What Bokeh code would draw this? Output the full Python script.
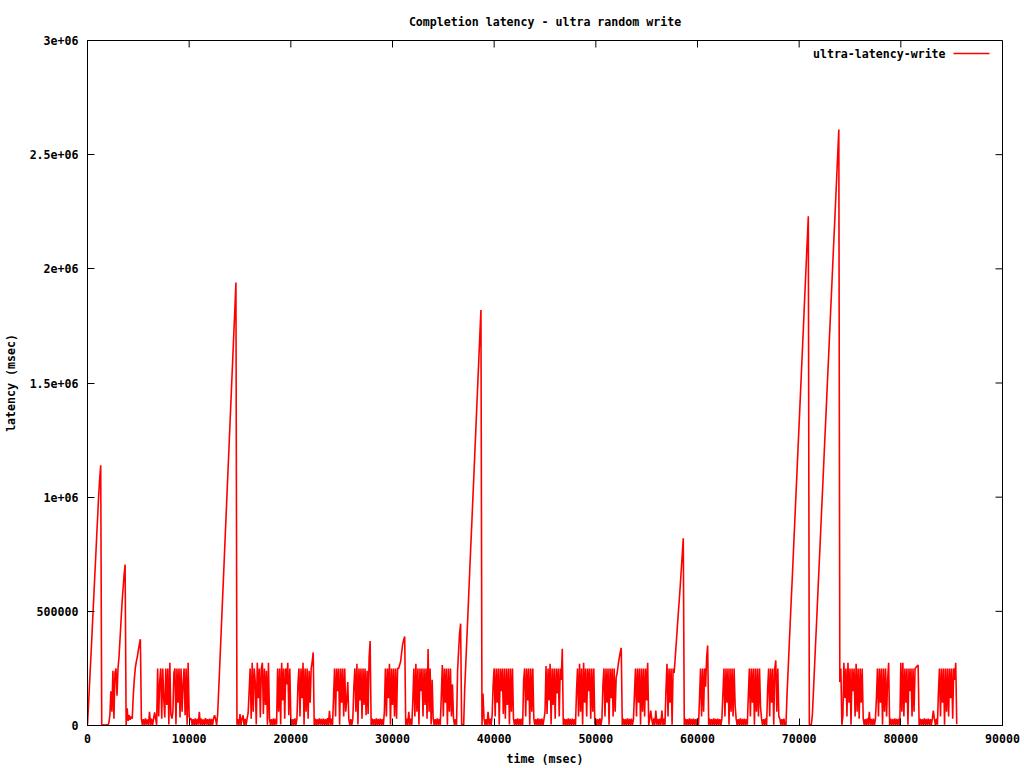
from bokeh.plotting import figure
from bokeh.models import Range1d, FixedTicker, Label
from bokeh.embed import file_html
from bokeh.resources import INLINE

TITLE = "Completion latency - ultra random write"
X_LABEL = "time (msec)"
Y_LABEL = "latency (msec)"
SERIES_NAME = "ultra-latency-write"

# sampling interval of the log (one sample every 100 msec)
SAMPLE_MS = 100

# latency samples, in thousands (one per sample)
latency_k = [
    5, 90, 180, 270, 360, 455, 545, 640, 730, 825, 915, 1010, 1080, 1140,
    2, 1, 3, 2, 1, 3, 2,
    10, 45, 150, 60, 240, 30, 230, 250, 130, 250,
    300, 380, 460, 540, 600, 660, 705,
    2, 75, 20, 45, 25, 40, 30,
    130, 200, 250, 280, 300, 330, 355, 378,
    30, 3, 28, 2, 31, 4, 27, 2, 60, 3, 30, 2, 29, 58, 31, 3,
    250, 40, 190, 250, 30, 250, 120, 35, 250, 90, 250, 4, 275, 50, 30, 60, 230,
    250, 4, 250, 100, 250, 35, 250, 60, 180, 250, 45, 250, 3, 275, 40, 25,
    30, 2, 28, 3, 31, 1, 29, 4, 60, 2, 30, 3, 27, 2, 32, 4, 28, 1, 30, 3, 29, 2, 31, 45, 28, 3,
    48, 150, 255, 360, 465, 570, 675, 780, 885, 990, 1095, 1200, 1305, 1410, 1515, 1620, 1725, 1830, 1940,
    3, 28, 2, 50, 3, 30, 45, 2, 29, 3, 30, 55,
    150, 250, 30, 275, 60, 250, 190, 4, 275, 120, 250, 35, 250, 275, 50, 250, 90, 240, 3, 275,
    30, 2, 28, 3, 31, 2, 29, 4,
    250, 60, 250, 4, 275, 110, 250, 30, 250, 180, 275, 45, 250,
    30, 2, 28, 3, 31, 2, 30,
    180, 250, 40, 250, 120, 275, 3, 250, 60, 250, 30, 240, 100, 250, 280, 320,
    2, 30, 3, 28, 2, 31, 4, 29, 2, 30, 3, 28, 1, 32, 2, 64, 3, 30, 2,
    120, 250, 40, 250, 150, 250, 3, 250, 100, 250, 40, 250, 60, 110, 190,
    30, 2, 28, 3, 30,
    170, 250, 60, 270, 4, 250, 110, 250, 30, 250, 90, 250, 45, 240, 50, 300, 370,
    2, 30, 3, 28, 2, 31, 3, 29, 2, 30, 3, 28, 2,
    60, 250, 40, 250, 120, 270, 3, 250, 90, 250, 40, 250, 30, 250,
    250, 265, 280, 320, 355, 375, 390,
    2, 30, 3, 60, 2, 30, 3,
    110, 250, 40, 270, 60, 250, 3, 250, 150, 250, 40, 250, 90, 250, 30, 335, 60, 250, 4, 200,
    30, 2, 28, 3, 31, 2, 29, 3,
    130, 265, 40, 250, 100, 250, 3, 250, 60, 250, 40, 180,
    30, 2, 28, 3,
    240, 325, 405, 446,
    3, 5, 2,
    157, 260, 365, 470, 575, 680, 785, 885, 990, 1090, 1195, 1300, 1405, 1510, 1615, 1720, 1820,
    2, 140, 30, 3, 28, 2, 60, 3, 30, 2, 45,
    180, 250, 40, 250, 100, 250, 3, 250, 150, 250, 50, 250, 30, 250, 90, 250, 4, 250, 60, 250,
    30, 2, 28, 3, 31, 2, 29, 3, 30, 2,
    200, 250, 40, 250, 110, 250, 3, 250, 60, 250,
    30, 2, 28, 3, 31, 2, 29, 3, 30, 2, 28, 60,
    260, 50, 250, 110, 270, 4, 250, 90, 250, 30, 250, 140, 250, 40, 250, 200, 336,
    2, 30, 3, 28, 2, 31, 3, 29, 2, 30, 3, 28, 2,
    150, 250, 40, 270, 60, 250, 3, 275, 100, 250, 40, 250, 150, 250, 30, 250, 60, 250, 4,
    30, 2, 28, 3, 31, 2, 30,
    180, 250, 40, 250, 100, 250, 3, 250, 120, 250, 40, 250, 60, 210,
    230, 265, 295, 320, 340,
    2, 30, 3, 28, 2, 31, 3, 29, 2, 30, 3, 28,
    140, 250, 40, 250, 100, 250, 3, 250, 60, 250, 40, 250, 110, 275,
    2, 30, 65, 28, 3, 31, 2, 65, 3, 29, 2, 30, 3, 65, 2, 30, 3,
    160, 270, 40, 250, 100, 250, 3, 250, 230,
    290, 355, 420, 485, 545, 610, 680, 750, 820,
    2, 30, 3, 28, 2, 31, 3, 29, 2, 30, 3, 28, 2, 31, 3,
    120, 250, 40, 250, 60, 250, 170, 300, 350,
    2, 30, 3, 28, 2, 31, 3, 29, 2, 30, 3, 28, 2, 30,
    140, 250, 40, 250, 100, 250, 3, 250, 60, 250, 40, 250, 90,
    30, 2, 28, 3, 31, 2, 29, 3, 30, 2, 28, 3,
    130, 250, 40, 250, 100, 250, 3, 250, 60, 250, 40, 250, 80,
    30, 2, 28, 3, 31, 2,
    160, 250, 40, 250, 100, 250, 3, 250, 285, 60, 250, 40,
    30, 2, 28, 3, 30, 2, 1,
    130, 230, 330, 430, 530, 625, 725, 825, 925, 1025, 1125, 1225, 1325, 1425, 1525, 1625, 1725, 1830, 1930, 2030, 2130, 2230,
    4, 3, 5,
    48, 145, 245, 345, 440, 540, 640, 735, 835, 935, 1030, 1130, 1230, 1325, 1425, 1525, 1620, 1720, 1820, 1915, 2015, 2115, 2210, 2310, 2410, 2510, 2610,
    190, 250, 3, 40, 275, 120, 250, 40, 275, 100, 250, 3, 250, 150, 250, 40, 270, 60, 250, 30, 250, 100, 250,
    30, 2, 28, 3, 31, 2, 60, 3, 29, 2, 30, 3, 28,
    120, 250, 40, 250, 100, 250, 3, 250, 60, 250, 40, 200, 275,
    2, 30, 3, 28, 2, 31, 3, 29, 2, 30, 3,
    275, 60, 275, 40, 250, 100, 250, 3, 250, 150, 250, 40, 250, 60, 250, 255, 260, 265,
    2, 30, 3, 28, 2, 31, 3, 29, 2, 30, 3, 28, 2, 31, 65, 29, 2, 30, 3,
    150, 250, 40, 250, 100, 250, 3, 250, 60, 250, 40, 250, 120, 250, 30, 250, 200, 275, 5,
]

time_ms = [i * SAMPLE_MS for i in range(len(latency_k))]
latency = [v * 1000 for v in latency_k]

x_ticks = [0, 10000, 20000, 30000, 40000, 50000, 60000, 70000, 80000, 90000]
x_tick_labels = ["0", "10000", "20000", "30000", "40000", "50000", "60000", "70000", "80000", "90000"]
y_ticks = [0, 500000, 1000000, 1500000, 2000000, 2500000, 3000000]
y_tick_labels = ["0", "500000", "1e+06", "1.5e+06", "2e+06", "2.5e+06", "3e+06"]

X_MAX = 90000
Y_MAX = 3000000

# layout (pixels)
W, H = 1024, 768
B_LEFT, B_RIGHT, B_TOP, B_BOTTOM = 87, 22, 40, 42
FRAME_W = W - B_LEFT - B_RIGHT
FRAME_H = H - B_TOP - B_BOTTOM
TICK_PX = 7

FONT = "DejaVu Sans Mono"
FS = "11.6px"
RED = "#ff0000"

p = figure(width=W, height=H, output_backend="svg", toolbar_location=None,
           x_range=Range1d(0, X_MAX), y_range=Range1d(0, Y_MAX),
           min_border_left=B_LEFT, min_border_right=B_RIGHT,
           min_border_top=B_TOP, min_border_bottom=B_BOTTOM,
           title=TITLE, x_axis_label=X_LABEL, y_axis_label=Y_LABEL)
p.background_fill_color = "white"
p.border_fill_color = "white"
p.outline_line_color = "black"
p.outline_line_width = 1
p.grid.visible = False

p.title.text_font = FONT
p.title.text_font_size = FS
p.title.text_font_style = "bold"
p.title.text_color = "black"
p.title.align = "center"
p.title.standoff = 23

p.line(time_ms, latency, line_color=RED, line_width=1.6)

p.xaxis.ticker = FixedTicker(ticks=x_ticks)
p.xaxis.major_label_overrides = {t: s for t, s in zip(x_ticks, x_tick_labels)}
p.yaxis.ticker = FixedTicker(ticks=y_ticks)
p.yaxis.major_label_overrides = {t: s for t, s in zip(y_ticks, y_tick_labels)}

for ax in list(p.xaxis) + list(p.yaxis):
    ax.major_tick_in = TICK_PX
    ax.major_tick_out = 0
    ax.minor_tick_line_color = None
    ax.axis_line_color = "black"
    ax.major_tick_line_color = "black"
    ax.major_label_text_font = FONT
    ax.major_label_text_font_size = FS
    ax.major_label_text_font_style = "bold"
    ax.major_label_text_color = "black"
    ax.axis_label_text_font = FONT
    ax.axis_label_text_font_size = FS
    ax.axis_label_text_font_style = "bold"
    ax.axis_label_text_color = "black"

p.xaxis.major_label_standoff = 8
p.xaxis.axis_label_standoff = 6
p.yaxis.major_label_standoff = 9
p.yaxis.axis_label_standoff = 9

# mirrored inward ticks on the top and right borders (gnuplot style)
top_len = TICK_PX * Y_MAX / FRAME_H
right_len = TICK_PX * X_MAX / FRAME_W
p.segment(x0=x_ticks, y0=[Y_MAX] * len(x_ticks), x1=x_ticks, y1=[Y_MAX - top_len] * len(x_ticks),
          line_color="black", line_width=1)
p.segment(x0=[X_MAX] * len(y_ticks), y0=y_ticks, x1=[X_MAX - right_len] * len(y_ticks), y1=y_ticks,
          line_color="black", line_width=1)

# legend (gnuplot style: text, then line sample, top right inside the frame)
LEG_TEXT_X = 84400
LEG_LINE_X0 = 85180
LEG_LINE_X1 = 88720
LEG_Y = 2943000
p.add_layout(Label(x=LEG_TEXT_X, y=LEG_Y, text=SERIES_NAME, text_align="right",
                   text_baseline="middle", text_font=FONT, text_font_size=FS,
                   text_font_style="bold", text_color="black"))
p.line([LEG_LINE_X0, LEG_LINE_X1], [LEG_Y, LEG_Y], line_color=RED, line_width=1.6)

open("out.html", "w").write(file_html(p, INLINE))
